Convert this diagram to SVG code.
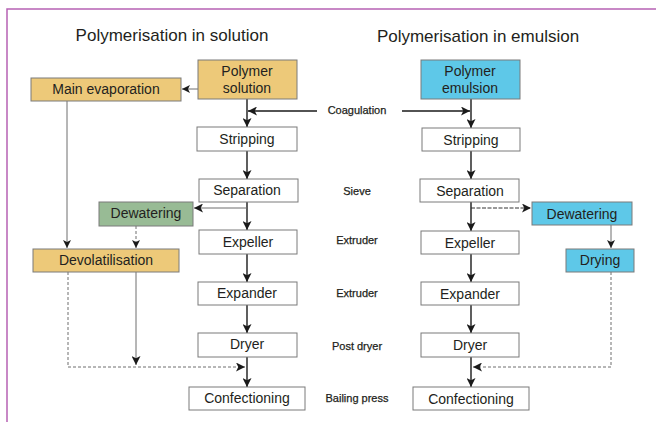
<svg xmlns="http://www.w3.org/2000/svg" width="656" height="422" viewBox="0 0 656 422">
<defs>
<marker id="ah" viewBox="0 0 10 10" refX="10" refY="5" markerWidth="9" markerHeight="9" markerUnits="userSpaceOnUse" orient="auto">
<path d="M0,0 L10,5 L0,10 L2.5,5 Z" fill="#1a1a1a"/>
</marker>
<marker id="ahs" viewBox="0 0 10 10" refX="10" refY="5" markerWidth="8" markerHeight="8" markerUnits="userSpaceOnUse" orient="auto">
<path d="M0,0 L10,5 L0,10 L2.5,5 Z" fill="#1a1a1a"/>
</marker>
</defs>
<style>
.box{stroke:#7a7a7a;stroke-width:1;fill:#fff}
.gold{fill:#edc979}
.green{fill:#98bb95}
.cyan{fill:#5ec8e8}
text{font-family:"Liberation Sans",Arial,sans-serif;fill:#231f20}
.t{font-size:14px;text-anchor:middle}
.h{font-size:17px;text-anchor:middle}
.l{font-size:11px;text-anchor:middle;stroke:#231f20;stroke-width:0.25}
.main{stroke:#1a1a1a;stroke-width:1.4;fill:none}
.thin{stroke:#6e6e6e;stroke-width:1;fill:none}
.dash{stroke:#6e6e6e;stroke-width:1;fill:none;stroke-dasharray:3,2}
</style>
<rect width="656" height="422" fill="#fff"/>
<path d="M7,422 V9 H656" fill="none" stroke="#b662b4" stroke-width="1.5"/>

<text class="h" x="172" y="41">Polymerisation in solution</text>
<text class="h" x="478" y="42">Polymerisation in emulsion</text>

<g id="labels">
<text class="l" x="357" y="114">Coagulation</text>
<text class="l" x="357" y="195">Sieve</text>
<text class="l" x="357" y="244">Extruder</text>
<text class="l" x="357" y="297">Extruder</text>
<text class="l" x="357" y="350">Post dryer</text>
<text class="l" x="357" y="402">Bailing press</text>
</g>

<g id="connectors">
<line class="main" x1="247" y1="99" x2="247" y2="127" marker-end="url(#ah)"/>
<line class="main" x1="317" y1="111" x2="248" y2="111" marker-end="url(#ah)"/>
<line class="main" x1="402" y1="111" x2="470" y2="111" marker-end="url(#ah)"/>
<line class="main" x1="471" y1="99" x2="471" y2="128" marker-end="url(#ah)"/>
<line class="thin" x1="198" y1="89" x2="182" y2="89" marker-end="url(#ahs)"/>
<line class="main" x1="247" y1="151" x2="247" y2="179" marker-end="url(#ah)"/>
<line class="main" x1="471" y1="151" x2="471" y2="179" marker-end="url(#ah)"/>
<line class="main" x1="247" y1="202" x2="247" y2="230" marker-end="url(#ah)"/>
<line class="main" x1="471" y1="202" x2="471" y2="231" marker-end="url(#ah)"/>
<line class="thin" x1="247" y1="208" x2="194" y2="208" stroke="#444" marker-end="url(#ah)"/>
<line class="dash" x1="471" y1="208" x2="531" y2="208" style="stroke:#333;stroke-dasharray:4,1.5" marker-end="url(#ah)"/>
<line class="thin" x1="67" y1="101" x2="67" y2="248" marker-end="url(#ahs)"/>
<line class="dash" x1="136" y1="226" x2="136" y2="248" marker-end="url(#ahs)"/>
<line class="thin" x1="611" y1="225" x2="611" y2="248" marker-end="url(#ahs)"/>
<line class="main" x1="247" y1="254" x2="247" y2="282" marker-end="url(#ah)"/>
<line class="main" x1="471" y1="254" x2="471" y2="282" marker-end="url(#ah)"/>
<line class="main" x1="247" y1="305" x2="247" y2="333" marker-end="url(#ah)"/>
<line class="main" x1="471" y1="305" x2="471" y2="333" marker-end="url(#ah)"/>
<line class="main" x1="247" y1="357" x2="247" y2="387" marker-end="url(#ah)"/>
<line class="main" x1="471" y1="357" x2="471" y2="387" marker-end="url(#ah)"/>
<line class="thin" x1="136" y1="272" x2="136" y2="365" marker-end="url(#ah)"/>
<path class="dash" d="M68,272 V367 H245" marker-end="url(#ah)"/>
<path class="dash" d="M611,272 V367 H473" marker-end="url(#ah)"/>
</g>

<g id="polymer-solution"><rect class="box gold" x="198" y="60" width="99" height="39"/><text class="t" x="247" y="76">Polymer</text><text class="t" x="247" y="93">solution</text></g>
<g id="main-evaporation"><rect class="box gold" x="31" y="78" width="150" height="23"/><text class="t" x="106" y="94">Main evaporation</text></g>
<g id="polymer-emulsion"><rect class="box cyan" x="421" y="60" width="99" height="39"/><text class="t" x="470" y="76">Polymer</text><text class="t" x="470" y="93">emulsion</text></g>

<g id="stripping-l"><rect class="box" x="197" y="127" width="100" height="24"/><text class="t" x="247" y="144">Stripping</text></g>
<g id="stripping-r"><rect class="box" x="422" y="128" width="98" height="23"/><text class="t" x="471" y="145">Stripping</text></g>
<g id="separation-l"><rect class="box" x="199" y="179" width="99" height="23"/><text class="t" x="247" y="195">Separation</text></g>
<g id="separation-r"><rect class="box" x="420" y="179" width="99" height="23"/><text class="t" x="470" y="196">Separation</text></g>
<g id="dewatering-l"><rect class="box green" x="99" y="202" width="94" height="24"/><text class="t" x="146" y="218">Dewatering</text></g>
<g id="dewatering-r"><rect class="box cyan" x="532" y="202" width="100" height="23"/><text class="t" x="582" y="219">Dewatering</text></g>
<g id="expeller-l"><rect class="box" x="199" y="230" width="98" height="24"/><text class="t" x="248" y="247">Expeller</text></g>
<g id="expeller-r"><rect class="box" x="421" y="231" width="98" height="23"/><text class="t" x="470" y="248">Expeller</text></g>
<g id="devolatilisation"><rect class="box gold" x="33" y="249" width="146" height="23"/><text class="t" x="106" y="265">Devolatilisation</text></g>
<g id="drying"><rect class="box cyan" x="566" y="249" width="68" height="23"/><text class="t" x="600" y="265">Drying</text></g>
<g id="expander-l"><rect class="box" x="198" y="282" width="99" height="23"/><text class="t" x="247" y="298">Expander</text></g>
<g id="expander-r"><rect class="box" x="421" y="282" width="98" height="23"/><text class="t" x="470" y="299">Expander</text></g>
<g id="dryer-l"><rect class="box" x="198" y="333" width="99" height="24"/><text class="t" x="247" y="349">Dryer</text></g>
<g id="dryer-r"><rect class="box" x="421" y="333" width="98" height="24"/><text class="t" x="470" y="350">Dryer</text></g>
<g id="confectioning-l"><rect class="box" x="189" y="387" width="116" height="23"/><text class="t" x="247" y="403">Confectioning</text></g>
<g id="confectioning-r"><rect class="box" x="413" y="387" width="116" height="23"/><text class="t" x="471" y="404">Confectioning</text></g>
</svg>
